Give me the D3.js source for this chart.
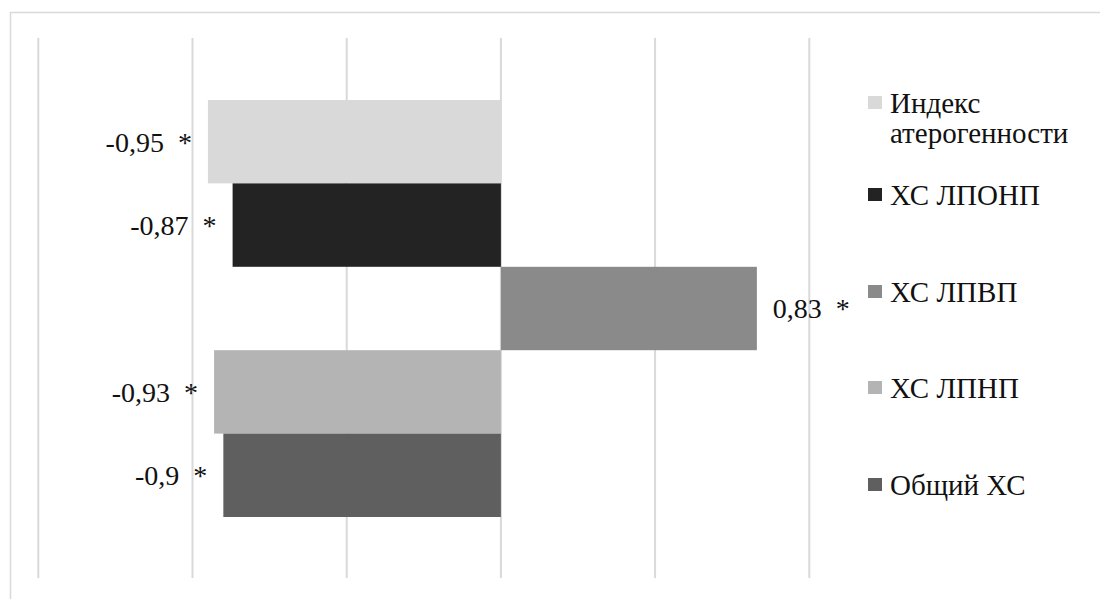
<!DOCTYPE html>
<html>
<head>
<meta charset="utf-8">
<script src="https://cdn.jsdelivr.net/npm/d3@7"></script>
<style>
  html, body { margin: 0; padding: 0; background: #fff; }
  svg { display: block; }
  svg text { font-family: 'Liberation Serif', Tinos, Times, 'Noto Serif', 'DejaVu Serif', FreeSerif, 'Nimbus Roman', 'Nimbus Roman No9 L', 'Noto Serif CJK SC', 'Source Han Serif SC', serif; }
</style>
</head>
<body>
<div id="chart"></div>
<script>
// series, top to bottom as drawn
const seriesNames = ['Индекс атерогенности', 'ХС ЛПОНП', 'ХС ЛПВП', 'ХС ЛПНП', 'Общий ХС'];
const seriesValues = [-0.95, -0.87, 0.83, -0.93, -0.9];
const seriesLabels = ['-0,95 *', '-0,87 *', '0,83 *', '-0,93 *', '-0,9 *'];
const seriesColors = ['#d9d9d9', '#232323', '#8a8a8a', '#b4b4b4', '#5f5f5f'];
const xTicks = [-1.5, -1, -0.5, 0, 0.5, 1];

const width = 1100, height = 599;

const svg = d3.select('#chart').append('svg')
    .attr('width', width)
    .attr('height', height);

// chart frame (right/bottom edges fall outside the crop)
svg.append('rect')
    .attr('x', 10.5)
    .attr('y', 12.5)
    .attr('width', 1200)
    .attr('height', 700)
    .attr('fill', 'none')
    .attr('stroke', '#d9d9d9')
    .attr('stroke-width', 1.5);

const x = d3.scaleLinear()
    .domain([-1.5, 1])
    .range([38.3, 809.3]);

const y = d3.scaleBand()
    .domain(seriesNames)
    .range([100, 517])
    .padding(0);

// vertical gridlines
svg.append('g')
    .selectAll('line')
    .data(xTicks)
    .join('line')
    .attr('x1', d => x(d))
    .attr('x2', d => x(d))
    .attr('y1', 38)
    .attr('y2', 578)
    .attr('stroke', '#d9d9d9')
    .attr('stroke-width', 2);

// bars
svg.append('g')
    .selectAll('rect')
    .data(seriesNames)
    .join('rect')
    .attr('x', (d, i) => Math.min(x(0), x(seriesValues[i])))
    .attr('y', d => y(d))
    .attr('width', (d, i) => Math.abs(x(seriesValues[i]) - x(0)))
    .attr('height', y.bandwidth())
    .attr('fill', (d, i) => seriesColors[i]);

// data labels, outside end
svg.append('g')
    .selectAll('text')
    .data(seriesNames)
    .join('text')
    .attr('x', (d, i) => seriesValues[i] < 0 ? x(seriesValues[i]) - 16 : x(seriesValues[i]) + 16)
    .attr('y', d => y(d) + y.bandwidth() / 2)
    .attr('dy', '0.35em')
    .attr('text-anchor', (d, i) => seriesValues[i] < 0 ? 'end' : 'start')
    .style('font-size', '28px')
    .style('fill', '#111')
    .style('white-space', 'pre')
    .text((d, i) => seriesLabels[i].replace(' ', '  '));

// legend
const legendLines = [['Индекс', 'атерогенности'], ['ХС ЛПОНП'], ['ХС ЛПВП'], ['ХС ЛПНП'], ['Общий ХС']];
const legendBaselines = [113, 205, 302, 398, 495];

const legend = svg.append('g');
const item = legend.selectAll('g')
    .data(seriesNames)
    .join('g')
    .attr('transform', (d, i) => `translate(868, ${legendBaselines[i]})`);

item.append('rect')
    .attr('x', 0)
    .attr('y', -17)
    .attr('width', 14)
    .attr('height', 13)
    .attr('fill', (d, i) => seriesColors[i]);

item.append('text')
    .attr('x', 22)
    .style('font-size', '29px')
    .style('fill', '#111')
    .selectAll('tspan')
    .data((d, i) => legendLines[i])
    .join('tspan')
    .attr('x', 22)
    .attr('dy', (d, j) => j === 0 ? 0 : 30)
    .text(d => d);
</script>
</body>
</html>
